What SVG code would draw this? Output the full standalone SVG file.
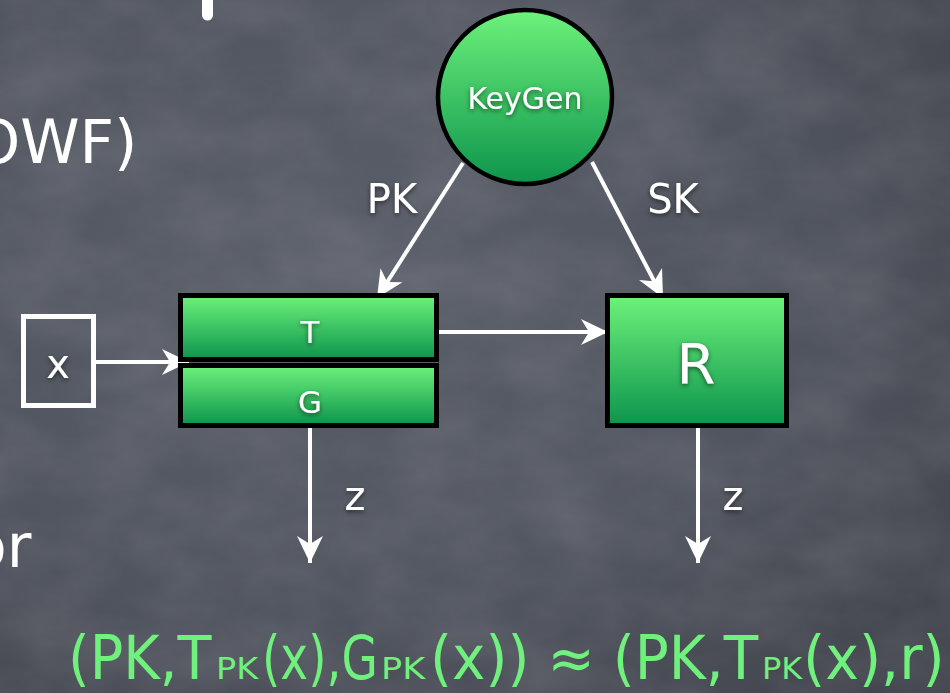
<svg xmlns="http://www.w3.org/2000/svg" width="950" height="693" viewBox="0 0 950 693">
<defs>
  <radialGradient id="bg" cx="0.35" cy="0.4" r="0.85">
    <stop offset="0" stop-color="#5b5f6a"/>
    <stop offset="0.6" stop-color="#50545e"/>
    <stop offset="1" stop-color="#41444c"/>
  </radialGradient>
  <linearGradient id="green" x1="0" y1="0" x2="0" y2="1">
    <stop offset="0" stop-color="#6df27b"/>
    <stop offset="1" stop-color="#0d944c"/>
  </linearGradient>
  <filter id="noise" x="0" y="0" width="100%" height="100%">
    <feTurbulence type="fractalNoise" baseFrequency="0.01 0.016" numOctaves="4" seed="3"/>
    <feColorMatrix type="matrix" values="0 0 0 0 1  0 0 0 0 1  0 0 0 0 1  0 0 0 0.16 -0.05"/>
  </filter>
  <filter id="shadow" x="-30%" y="-30%" width="160%" height="160%">
    <feDropShadow dx="0" dy="2" stdDeviation="2.5" flood-color="#000" flood-opacity="0.55"/>
  </filter>
  <marker id="arrow" markerUnits="userSpaceOnUse" viewBox="-2 -15 32 30" markerWidth="32" markerHeight="30" refX="27" refY="0" orient="auto">
    <path d="M0,-13 L27,0 L0,13 L8,0 Z" fill="#ffffff"/>
  </marker>
  <style>
    .lbl { font-family: "DejaVu Sans", "Noto Sans", sans-serif; fill: #ffffff; }
    .node { stroke: #000000; stroke-width: 5; fill: url(#green); }
    .conn { stroke: #ffffff; stroke-width: 4; fill: none; marker-end: url(#arrow); }
    .mid { text-anchor: middle; }
    .eq { font-family: "DejaVu Sans", "Noto Sans", sans-serif; fill: #70f07c; font-size: 60px; }
    .eq.sub { font-size: 30px; }
  </style>
</defs>

<rect x="0" y="0" width="950" height="693" fill="url(#bg)"/>
<rect x="0" y="0" width="950" height="693" filter="url(#noise)"/>

<!-- slide fragments -->
<line x1="207.5" y1="-10" x2="207.5" y2="15" stroke="#ffffff" stroke-width="11" stroke-linecap="round"/>
<text class="lbl" x="-27" y="163" font-size="60">OWF)</text>
<text class="lbl" x="-30" y="567" font-size="60">or</text>

<g id="connectors">
  <line class="conn" x1="463" y1="163" x2="377" y2="298"/>
  <line class="conn" x1="592" y1="162" x2="663" y2="298"/>
  <line class="conn" x1="96" y1="362" x2="189" y2="362"/>
  <line class="conn" x1="439" y1="332" x2="608" y2="332"/>
  <line class="conn" x1="310" y1="428" x2="310" y2="563"/>
  <line class="conn" x1="698" y1="428" x2="698" y2="563"/>
  <text class="lbl mid" x="392" y="213" font-size="40" filter="url(#shadow)">PK</text>
  <text class="lbl mid" x="673" y="213" font-size="40" filter="url(#shadow)">SK</text>
  <text class="lbl mid" x="355" y="510" font-size="40" filter="url(#shadow)">z</text>
  <text class="lbl mid" x="733" y="510" font-size="40" filter="url(#shadow)">z</text>
</g>

<g id="keygen">
  <circle cx="525" cy="97" r="87" fill="url(#green)" stroke="#000000" stroke-width="4.5"/>
  <text class="lbl mid" x="525" y="109" font-size="30" filter="url(#shadow)">KeyGen</text>
</g>

<g id="x-input">
  <rect x="23.5" y="316.5" width="70" height="89" fill="none" stroke="#ffffff" stroke-width="5"/>
  <text class="lbl mid" x="58" y="378" font-size="40" filter="url(#shadow)">x</text>
</g>

<g id="T">
  <rect class="node" x="180.5" y="295.5" width="256" height="64"/>
  <text class="lbl mid" x="310" y="343" font-size="31" filter="url(#shadow)">T</text>
</g>

<g id="G">
  <rect class="node" x="180.5" y="365.5" width="256" height="60"/>
  <text class="lbl mid" x="310" y="413" font-size="31" filter="url(#shadow)">G</text>
</g>

<g id="R">
  <rect class="node" x="607.5" y="295.5" width="179" height="130"/>
  <text class="lbl mid" x="696" y="383" font-size="56" filter="url(#shadow)">R</text>
</g>

<g id="equation">
  <text class="eq" transform="translate(68,679) scale(0.928,1)">(PK,T</text>
  <text class="eq sub" transform="translate(216,679) scale(1.12,1)">PK</text>
  <text class="eq" transform="translate(262,679) scale(0.784,1)">(x),G</text>
  <text class="eq sub" transform="translate(381,679) scale(1.17,1)">PK</text>
  <text class="eq" transform="translate(430,679) scale(0.941,1)">(x)) ≈ (PK,T</text>
  <text class="eq sub" transform="translate(762,679) scale(1.067,1)">PK</text>
  <text class="eq" transform="translate(803,679) scale(0.949,1)">(x),r)</text>
</g>
</svg>
